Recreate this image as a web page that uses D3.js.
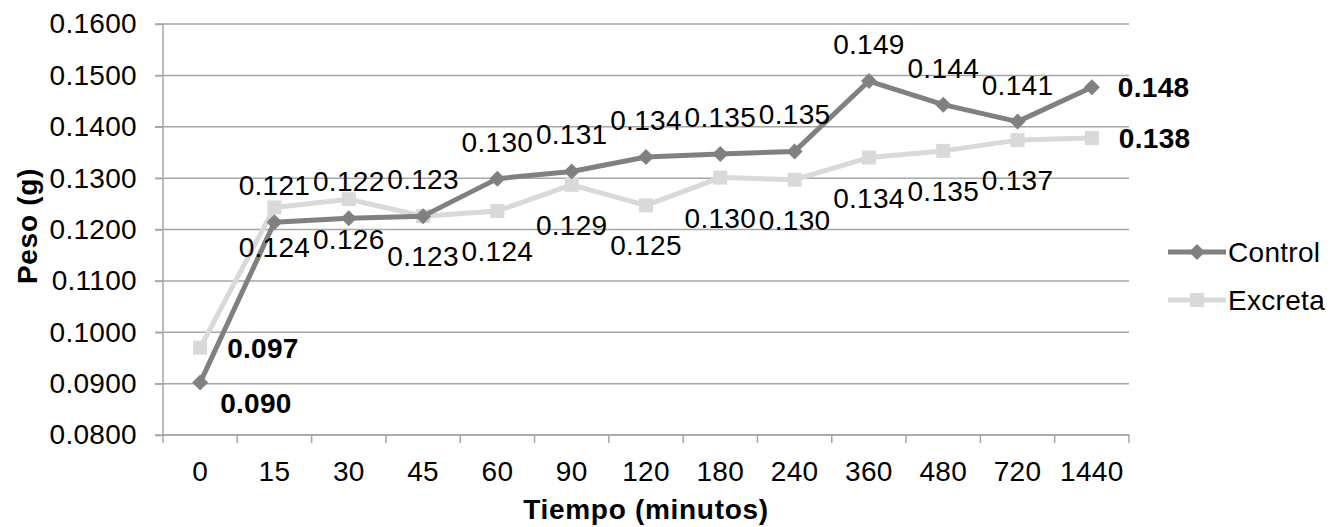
<!DOCTYPE html>
<html>
<head>
<meta charset="utf-8">
<script src="https://cdn.jsdelivr.net/npm/d3@7"></script>
<style>
  body { margin: 0; background: #fff; }
  text { font-family: "Liberation Sans", Arial, sans-serif; }
</style>
</head>
<body>
<svg id="chart" width="1330" height="527"></svg>
<script>
// data
const categories = ["0", "15", "30", "45", "60", "90", "120", "180", "240", "360", "480", "720", "1440"];
const control = [0.0902, 0.1214, 0.1222, 0.1226, 0.1299, 0.1313, 0.1341, 0.1347, 0.1352, 0.1489, 0.1443, 0.1410, 0.1477];
const excreta = [0.0970, 0.1243, 0.1259, 0.1226, 0.1236, 0.1287, 0.1247, 0.1301, 0.1297, 0.1340, 0.1353, 0.1374, 0.1378];
const yTicks = [0.08, 0.09, 0.10, 0.11, 0.12, 0.13, 0.14, 0.15, 0.16];

const svg = d3.select("#chart");
const plotLeft = 163, plotRight = 1129, plotTop = 24, plotBottom = 435;
const gridColor = "#a6a6a6";
const fs = 28, ls = "0.3px";

const x = d3.scaleBand().domain(categories).range([plotLeft, plotRight]).padding(0);
const y = d3.scaleLinear().domain([0.08, 0.16]).range([plotBottom, plotTop]);
const f3 = d3.format(".3f");

// gridlines
svg.append("g").selectAll("line").data(yTicks).join("line")
  .attr("x1", plotLeft - 8).attr("x2", plotRight)
  .attr("y1", d => y(d)).attr("y2", d => y(d))
  .attr("stroke", gridColor).attr("stroke-width", 1.5);

// y axis
const yAxis = svg.append("g").attr("transform", `translate(${plotLeft},0)`)
  .call(d3.axisLeft(y).tickValues(yTicks).tickFormat(d3.format(".4f")).tickSize(8).tickPadding(18));
yAxis.select(".domain").attr("stroke", gridColor).attr("stroke-width", 1.5).attr("d", `M0,${plotTop}V${plotBottom}`);
yAxis.selectAll("line").attr("stroke", gridColor).attr("stroke-width", 1.5);
yAxis.selectAll("text").attr("font-size", fs).attr("letter-spacing", ls).attr("fill", "#000")
  .attr("font-family", "Liberation Sans, Arial, sans-serif");

// x axis
const xAxis = svg.append("g").attr("transform", `translate(0,${plotBottom})`)
  .call(d3.axisBottom(x).tickSize(0).tickPadding(26));
xAxis.select(".domain").remove();
xAxis.selectAll("text").attr("font-size", fs).attr("letter-spacing", ls).attr("fill", "#000")
  .attr("font-family", "Liberation Sans, Arial, sans-serif");
svg.append("line").attr("x1", plotLeft).attr("x2", plotRight).attr("y1", plotBottom).attr("y2", plotBottom)
  .attr("stroke", gridColor).attr("stroke-width", 1.5);
svg.append("g").selectAll("line").data(d3.range(categories.length + 1)).join("line")
  .attr("x1", i => plotLeft + i * x.step()).attr("x2", i => plotLeft + i * x.step())
  .attr("y1", plotBottom).attr("y2", plotBottom + 8)
  .attr("stroke", gridColor).attr("stroke-width", 1.5);

// axis titles
svg.append("text").attr("x", 646).attr("y", 519).attr("text-anchor", "middle")
  .attr("font-size", 28).attr("font-weight", "bold").attr("letter-spacing", "0.7px").text("Tiempo (minutos)");
svg.append("text").attr("transform", `translate(37,226) rotate(-90)`).attr("text-anchor", "middle")
  .attr("font-size", 28).attr("font-weight", "bold").attr("letter-spacing", "0.7px").text("Peso (g)");

const cx = c => x(c) + x.bandwidth() / 2;
const line = d3.line().x((d, i) => cx(categories[i])).y(d => y(d));

const series = [
  { name: "Control", values: control, color: "#808080", marker: "diamond" },
  { name: "Excreta", values: excreta, color: "#d9d9d9", marker: "square" }
];

function drawMarker(g, type, color, px, py) {
  if (type === "diamond") {
    g.append("path").attr("d", `M${px},${py - 8}L${px + 8},${py}L${px},${py + 8}L${px - 8},${py}Z`).attr("fill", color);
  } else {
    g.append("rect").attr("x", px - 7).attr("y", py - 7).attr("width", 14).attr("height", 14).attr("fill", color);
  }
}

// draw excreta first so control is on top
[series[1], series[0]].forEach(s => {
  svg.append("path").datum(s.values).attr("d", line).attr("fill", "none")
    .attr("stroke", s.color).attr("stroke-width", 5).attr("stroke-linejoin", "round");
  const g = svg.append("g");
  s.values.forEach((v, i) => drawMarker(g, s.marker, s.color, cx(categories[i]), y(v)));
});

// data labels
const labels = svg.append("g").attr("font-size", fs).attr("letter-spacing", ls).attr("fill", "#000");
const last = categories.length - 1;
control.forEach((v, i) => {
  const t = labels.append("text").text(f3(v));
  if (i === 0) {
    t.attr("x", cx(categories[i]) + 20).attr("y", y(v) + 30).attr("font-weight", "bold");
  } else if (i === last) {
    t.attr("x", cx(categories[i]) + 26).attr("y", y(v) + 10).attr("font-weight", "bold");
  } else {
    t.attr("x", cx(categories[i])).attr("y", y(v) - 27).attr("text-anchor", "middle");
  }
});
excreta.forEach((v, i) => {
  const t = labels.append("text").text(f3(v));
  if (i === 0 || i === last) {
    t.attr("x", cx(categories[i]) + 27).attr("y", y(v) + 10).attr("font-weight", "bold");
  } else {
    t.attr("x", cx(categories[i])).attr("y", y(v) + 50).attr("text-anchor", "middle");
  }
});

// legend
const legend = svg.append("g");
series.forEach((s, i) => {
  const ly = 252 + i * 48;
  legend.append("line").attr("x1", 1168).attr("x2", 1226).attr("y1", ly).attr("y2", ly)
    .attr("stroke", s.color).attr("stroke-width", 5);
  drawMarker(legend, s.marker, s.color, 1197, ly);
  legend.append("text").attr("x", 1228).attr("y", ly + 10).attr("font-size", fs).attr("letter-spacing", ls).text(s.name);
});
</script>
</body>
</html>
